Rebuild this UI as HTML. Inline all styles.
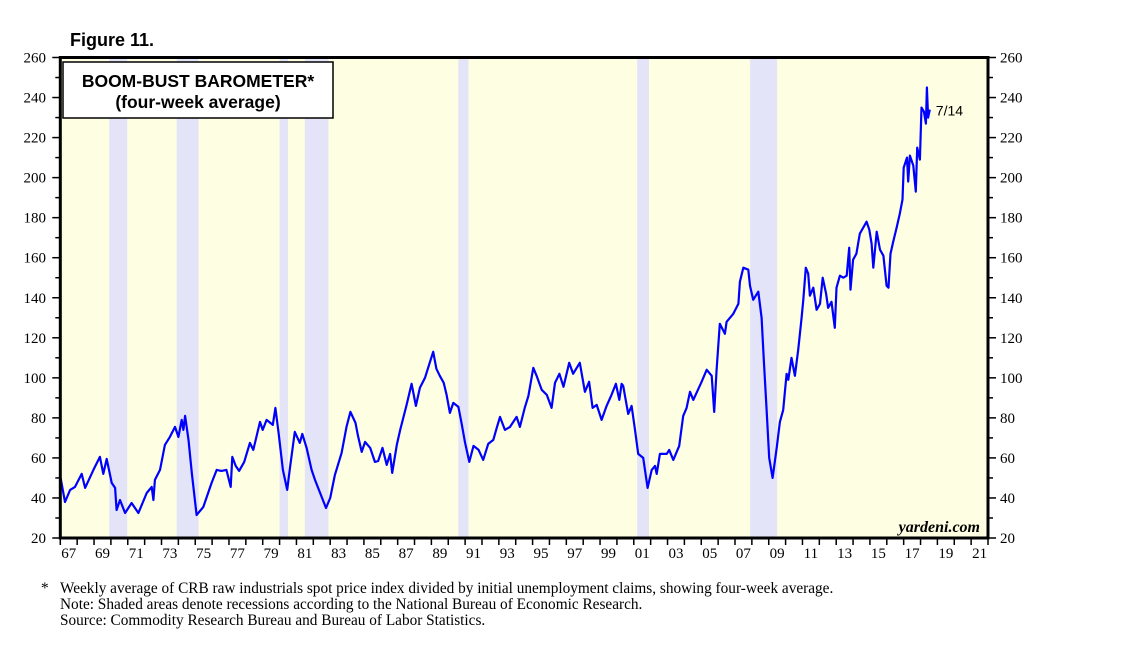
<!DOCTYPE html>
<html><head><meta charset="utf-8"><style>
body{margin:0;background:#fff;width:1138px;height:641px;overflow:hidden;}
svg text{font-family:"Liberation Serif",serif;}
</style></head><body>
<svg id="chart" width="1138" height="641" xmlns="http://www.w3.org/2000/svg">
<text x="70" y="46" font-size="18" font-weight="bold" style="font-family:'Liberation Sans',sans-serif">Figure 11.</text>
<g id="plot"></g>
<g font-size="15.3">
<text x="41" y="593">*</text>
<text x="60" y="593">Weekly average of CRB raw industrials spot price index divided by initial unemployment claims, showing four-week average.</text>
<text x="60" y="609">Note: Shaded areas denote recessions according to the National Bureau of Economic Research.</text>
<text x="60" y="625">Source: Commodity Research Bureau and Bureau of Labor Statistics.</text>
</g>
</svg>
<script>
const recStart=[1969.9,1973.9,1980.0,1981.5,1990.6,2001.2,2007.9];
const recEnd=[1970.97,1975.2,1980.5,1982.9,1991.2,2001.9,2009.5];
const years=[1967.02,1967.28,1967.58,1967.87,1968.27,1968.47,1968.96,1969.35,1969.55,1969.75,1970.05,1970.25,1970.34,1970.54,1970.84,1971.23,1971.63,1972.12,1972.42,1972.52,1972.61,1972.91,1973.2,1973.5,1973.8,1974.0,1974.2,1974.3,1974.4,1974.6,1974.8,1975.08,1975.48,1975.97,1976.27,1976.55,1976.85,1977.1,1977.2,1977.4,1977.6,1977.9,1978.24,1978.44,1978.84,1979.0,1979.23,1979.6,1979.75,1979.95,1980.2,1980.45,1980.6,1980.9,1981.2,1981.35,1981.6,1981.9,1982.1,1982.5,1982.75,1983.0,1983.28,1983.68,1983.97,1984.2,1984.5,1984.65,1984.87,1985.07,1985.37,1985.65,1985.85,1986.1,1986.35,1986.55,1986.68,1986.95,1987.15,1987.53,1987.83,1988.08,1988.32,1988.62,1988.9,1989.11,1989.3,1989.5,1989.73,1989.9,1990.1,1990.3,1990.6,1990.8,1991.0,1991.25,1991.5,1991.8,1992.07,1992.37,1992.67,1992.87,1993.07,1993.36,1993.66,1994.05,1994.25,1994.55,1994.75,1995.04,1995.24,1995.54,1995.84,1996.13,1996.33,1996.59,1996.83,1997.17,1997.4,1997.8,1998.1,1998.35,1998.56,1998.8,1999.09,1999.39,1999.68,1999.94,2000.14,2000.28,2000.37,2000.67,2000.87,2001.07,2001.26,2001.56,2001.82,2002.06,2002.26,2002.36,2002.55,2002.95,2003.1,2003.34,2003.69,2003.93,2004.13,2004.33,2004.53,2005.02,2005.32,2005.62,2005.77,2005.91,2006.1,2006.4,2006.5,2006.9,2007.2,2007.29,2007.49,2007.79,2007.89,2008.08,2008.38,2008.58,2008.71,2008.87,2009.03,2009.23,2009.47,2009.66,2009.86,2010.06,2010.16,2010.35,2010.55,2010.75,2010.95,2011.05,2011.2,2011.34,2011.44,2011.64,2011.84,2012.04,2012.2,2012.4,2012.52,2012.72,2012.92,2013.02,2013.22,2013.42,2013.62,2013.77,2013.85,2014.0,2014.2,2014.4,2014.6,2014.8,2014.96,2015.1,2015.2,2015.4,2015.6,2015.8,2015.99,2016.1,2016.22,2016.38,2016.58,2016.77,2016.93,2017.0,2017.2,2017.27,2017.37,2017.57,2017.72,2017.8,2017.96,2018.06,2018.2,2018.32,2018.38,2018.45,2018.55];
const values=[50,38,44,45.5,52,45,54,60.5,52,59.5,47.5,45,34,39,32.5,37.5,32.5,42.5,45.5,39,49,54,66.5,70.5,75.5,70.5,79,74,81,69,52,31.5,35.5,47.5,54,53.5,54,45.5,60.5,56,53.5,58,67.5,64,78,74,79,76.5,85,72,54,44,54,73,67.5,72,65,54,49,40.5,35,40,51.5,62.5,75.5,83,77.5,71,63,68,65,58,58.5,65,56.5,62,52.5,66.5,74,86.5,97,86,95,100,107.5,113,104.5,101,97.5,91.5,82.5,87.5,85.5,77,67.5,58,66,64,59,67,69,75,80.5,74,75.5,80.5,75.5,85.5,91,105,101,94,91.5,85,97.5,102,95.5,107.5,102,107.5,93,98,85,86.5,79,86,91.5,97,89,97,96,82,86,74,62,60,45,54,56,52,62,62,64,59,66,81,85,93,89,98,104,101,83,104,127,122,128,132,137,148,155,154,146,139,143,130,109,85,60,50,65,78,84,102,99,110,101,114,130,139,155,152,141,145,134,137,150,142,135,138,125,145,151,150,151,165,144,159,162,172,175,178,174,167,155,173,164,161,146,145,162,168,175,182,189,205,210,198,211,206,193,215,209,235,233,227,245,230,234];
const yTicks=[20,40,60,80,100,120,140,160,180,200,220,240,260];
const xLabels=["67","69","71","73","75","77","79","81","83","85","87","89","91","93","95","97","99","01","03","05","07","09","11","13","15","17","19","21"];

const L=60.3,R=988,T=57.5,B=538,Y0=1967,Y1=2022,V0=20,V1=260;
const xs=y=>L+(y-Y0)*(R-L)/(Y1-Y0);
const ys=v=>B-(v-V0)*(B-T)/(V1-V0);
const NS="http://www.w3.org/2000/svg";
const g=document.getElementById('plot');
function mk(tag,at,parent){const e=document.createElementNS(NS,tag);for(const k in at)e.setAttribute(k,at[k]);(parent||g).appendChild(e);return e;}

let bg=mk('rect',{x:L,y:T,width:R-L,height:B-T,fill:'#fefee2'});


recStart.forEach((s,i)=>{
 const r=mk('rect',{x:xs(s),y:T,width:xs(recEnd[i])-xs(s),height:B-T,fill:'#e4e4f8'});
 
 
});
const tb=mk('rect',{x:63,y:62,width:270,height:56,fill:'#fff',stroke:'#000','stroke-width':1.5});


let t1=mk('text',{x:198,y:87,'text-anchor':'middle','font-size':17.5,'font-weight':'bold',style:"font-family:'Liberation Sans',sans-serif"});
t1.textContent='BOOM-BUST BAROMETER*';


let t2=mk('text',{x:198,y:108,'text-anchor':'middle','font-size':17.5,'font-weight':'bold',style:"font-family:'Liberation Sans',sans-serif"});
t2.textContent='(four-week average)';



let d=years.map((y,i)=>(i?'L':'M')+xs(y).toFixed(1)+','+ys(values[i]).toFixed(1)).join('');
const ln=mk('path',{d:d,fill:'none',stroke:'#0000ff','stroke-width':2.2,'stroke-linejoin':'round'});


const lastY=years[years.length-1];
let el=mk('text',{x:xs(lastY)+6,y:ys(values[values.length-1])+6,'font-size':14,style:"font-family:'Liberation Sans',sans-serif"});
el.textContent='7/14';



const fr=mk('rect',{x:L,y:T,width:R-L,height:B-T,fill:'none',stroke:'#000','stroke-width':3});



for(let v=V0;v<=V1;v+=10){
 const major=v%20===0,len=major?8:5;
 mk('line',{x1:L-len,x2:L,y1:ys(v),y2:ys(v),stroke:'#000','stroke-width':1.5});
 mk('line',{x1:R,x2:R+len,y1:ys(v),y2:ys(v),stroke:'#000','stroke-width':1.5});
}
yTicks.forEach(v=>{
 let a=mk('text',{x:46,y:ys(v)+5,'text-anchor':'end','font-size':15});
 a.textContent=v;
 
 
 let b=mk('text',{x:1000,y:ys(v)+5,'font-size':15});
 b.textContent=v;
 
 
});
for(let y=Y0;y<=Y1;y++){
 mk('line',{x1:xs(y),x2:xs(y),y1:B,y2:B+7,stroke:'#000','stroke-width':1.5});
}
xLabels.forEach((s,i)=>{
 let a=mk('text',{x:xs(Y0+2*i+0.5),y:B+20,'text-anchor':'middle','font-size':15});
 a.textContent=s;
 
 
});
let yw=mk('text',{x:980,y:532,'text-anchor':'end','font-size':16,'font-weight':'bold','font-style':'italic'});
yw.textContent='yardeni.com';


</script>
</body></html>
